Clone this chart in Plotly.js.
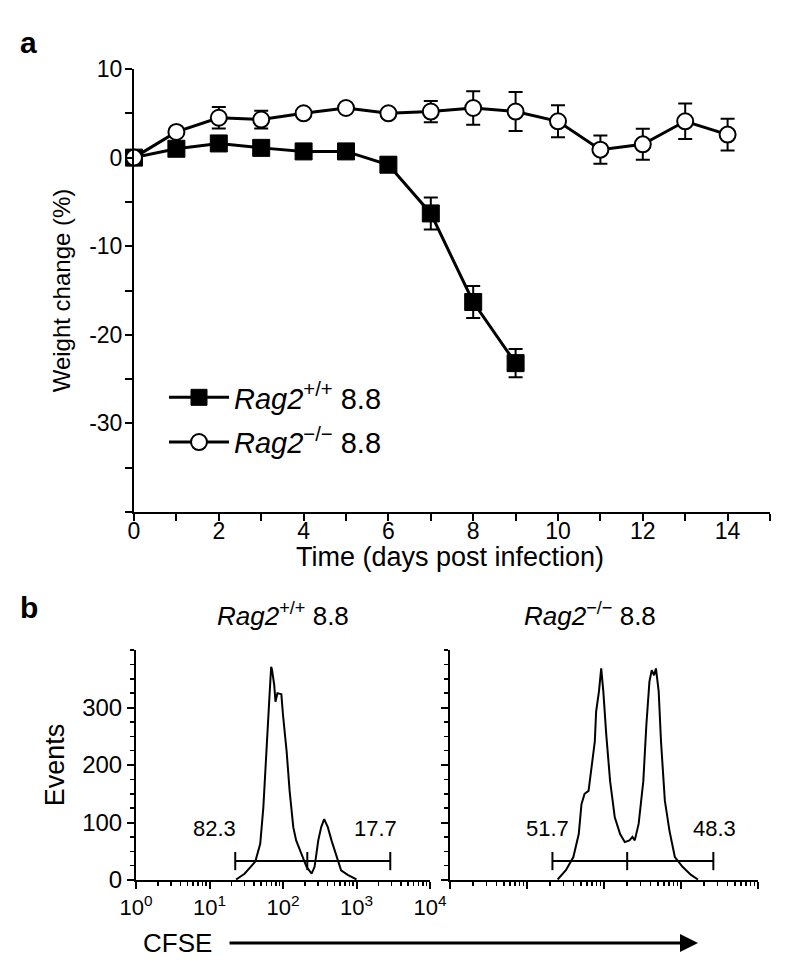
<!DOCTYPE html>
<html><head><meta charset="utf-8">
<script src="https://cdn.plot.ly/plotly-3.0.1.min.js"></script>
<style>html,body{margin:0;padding:0;background:#fff}</style>
</head><body>
<div id="chart" style="width:800px;height:975px"></div>
<script>
// ---- panel a: weight change ----
const wtDays = [0,1,2,3,4,5,6,7,8,9];
const wtWeight = [0,1.0,1.6,1.1,0.7,0.7,-0.8,-6.3,-16.3,-23.2];
const wtErr = [0,0.3,0.4,0.6,0.3,0.3,0.8,1.8,1.8,1.6];
const koDays = [0,1,2,3,4,5,6,7,8,9,10,11,12,13,14];
const koWeight = [0,2.9,4.5,4.3,5.0,5.6,5.0,5.2,5.6,5.2,4.1,0.9,1.5,4.1,2.6];
const koErr = [0,0.4,1.2,1.0,0.4,0.4,0.5,1.2,1.9,2.2,1.8,1.6,1.75,2.0,1.8];
const wtName = '<i>Rag2</i><sup>+/+</sup> 8.8';
const koName = '<i>Rag2</i><sup>\u2212/\u2212</sup> 8.8';
const dayTickVals = [0,1,2,3,4,5,6,7,8,9,10,11,12,13,14,15];
const dayTickText = ['0','','2','','4','','6','','8','','10','','12','','14',''];
const weightTickVals = [10,5,0,-5,-10,-15,-20,-25,-30,-35,-40];
const weightTickText = ['10','','0','','-10','','-20','','-30','',''];

// ---- panel b: CFSE histograms ----
const cfseWt = [23,30,42,49,54,59,63,66,69,71,76,79,84,95,100,112,123,138,151,178,209,245,269,302,331,363,407,457,537,617,759,1000];
const eventsWt = [1,11,32,63,126,207,264,328,371,365,339,310,325,323,287,224,155,92,69,46,23,11,23,69,92,106,92,69,40,17,9,1];
const cfseKo = [25,32,40,47,51,56,63,69,76,79,86,92,98,107,120,138,162,186,214,234,251,282,324,355,389,417,447,473,513,550,617,708,832,1047,1349,1660];
const eventsKo = [1,17,40,80,132,150,155,195,241,293,328,368,328,253,172,109,80,66,69,75,69,98,172,270,345,365,356,368,328,241,138,86,40,23,9,1];
const gateWt = [22.4,214,2880];
const gateKo = [21.4,200,2630];
const gateEvents = [33,33,33];
const gatePctWt = ['82.3','17.7'];
const gatePctKo = ['51.7','48.3'];
const cfseTickVals = [1,10,100,1000,10000];
const cfseTickText = ['10<sup>0</sup>','10<sup>1</sup>','10<sup>2</sup>','10<sup>3</sup>','10<sup>4</sup>'];
const eventsTickVals = [0,100,200,300];
const eventsTickText = ['0','100','200','300'];
const panelTitleWt = '<i>Rag2</i><sup>+/+</sup> 8.8';
const panelTitleKo = '<i>Rag2</i><sup>\u2212/\u2212</sup> 8.8';

const FONT = 'Liberation Sans, Arial, sans-serif';
const K = '#000';

const traces = [
  {x: wtDays, y: wtWeight, name: wtName, type:'scatter', mode:'lines+markers', xaxis:'x', yaxis:'y',
   line:{color:K,width:3}, marker:{symbol:'square', size:17, color:K, line:{color:K,width:1}},
   error_y:{type:'data', array:wtErr, visible:true, color:K, thickness:2, width:7},
   cliponaxis:false, legendgroup:'a'},
  {x: koDays, y: koWeight, name: koName, type:'scatter', mode:'lines+markers', xaxis:'x', yaxis:'y',
   line:{color:K,width:3}, marker:{symbol:'circle', size:16, color:'#fff', line:{color:K,width:2}},
   error_y:{type:'data', array:koErr, visible:true, color:K, thickness:2, width:7},
   cliponaxis:false, legendgroup:'b'},
  {x: cfseWt, y: eventsWt, type:'scatter', mode:'lines', xaxis:'x2', yaxis:'y2',
   line:{color:K,width:2}, showlegend:false, cliponaxis:false},
  {x: gateWt, y: gateEvents, type:'scatter', mode:'lines+markers', xaxis:'x2', yaxis:'y2',
   line:{color:K,width:2}, marker:{symbol:'line-ns-open', size:13, line:{color:K,width:2}}, showlegend:false, cliponaxis:false},
  {x: cfseKo, y: eventsKo, type:'scatter', mode:'lines', xaxis:'x3', yaxis:'y3',
   line:{color:K,width:2}, showlegend:false, cliponaxis:false},
  {x: gateKo, y: gateEvents, type:'scatter', mode:'lines+markers', xaxis:'x3', yaxis:'y3',
   line:{color:K,width:2}, marker:{symbol:'line-ns-open', size:13, line:{color:K,width:2}}, showlegend:false, cliponaxis:false}
];

const axBase = {showline:true, linecolor:K, linewidth:2, ticks:'outside', tickcolor:K, tickwidth:2,
  showgrid:false, zeroline:false, fixedrange:true};

const layout = {
  width:800, height:975, margin:{l:0,r:0,t:0,b:0},
  paper_bgcolor:'#fff', plot_bgcolor:'rgba(0,0,0,0)',
  font:{family:FONT, color:K, size:24},
  showlegend:true,
  legend:{x:0.205, y:0.6185, xanchor:'left', yanchor:'top', font:{size:29, family:FONT},
    bgcolor:'rgba(0,0,0,0)', traceorder:'grouped', tracegroupgap:4, itemwidth:60},
  xaxis: Object.assign({}, axBase, {domain:[0.1675,0.9625], range:[0,15], anchor:'y',
    tickmode:'array', tickvals:dayTickVals, ticktext:dayTickText, ticklen:7, tickfont:{size:23},
    ticklabelstandoff:-10}),
  yaxis: Object.assign({}, axBase, {domain:[0.4749,0.9292], range:[-40,10], anchor:'x',
    tickmode:'array', tickvals:weightTickVals, ticktext:weightTickText, ticklen:7, tickfont:{size:23},
    ticklabelstandoff:-2,
    title:{text:'Weight change (%)', font:{size:24}, standoff:12}}),
  xaxis2: Object.assign({}, axBase, {domain:[0.17,0.5375], type:'log', range:[0,4], anchor:'y2',
    tickmode:'array', tickvals:cfseTickVals, ticktext:cfseTickText, ticklen:7, tickfont:{size:22},
    minor:{dtick:'D1', ticks:'outside', ticklen:4, tickwidth:1.5, tickcolor:K, showgrid:false}}),
  yaxis2: Object.assign({}, axBase, {domain:[0.0974,0.3333], range:[0,400], anchor:'x2',
    tickmode:'array', tickvals:eventsTickVals, ticktext:eventsTickText, ticklen:7, tickfont:{size:24},
    minor:{tick0:0, dtick:25, ticks:'outside', ticklen:4, tickwidth:1.5, tickcolor:K, showgrid:false},
    title:{text:'Events', font:{size:27}, standoff:10}}),
  xaxis3: Object.assign({}, axBase, {domain:[0.5625,0.9475], type:'log', range:[0,4], anchor:'y3',
    tickmode:'array', tickvals:cfseTickVals, ticktext:cfseTickText, showticklabels:false, ticklen:7,
    minor:{dtick:'D1', ticks:'outside', ticklen:4, tickwidth:1.5, tickcolor:K, showgrid:false}}),
  yaxis3: Object.assign({}, axBase, {domain:[0.0974,0.3333], range:[0,400], anchor:'x3',
    tickmode:'array', tickvals:eventsTickVals, ticktext:eventsTickText, showticklabels:false, ticklen:7,
    minor:{tick0:0, dtick:25, ticks:'outside', ticklen:4, tickwidth:1.5, tickcolor:K, showgrid:false}}),
  annotations: [
    {text:'<b>a</b>', xref:'paper', yref:'paper', x:29/800, y:1-42/975, xanchor:'center', yanchor:'middle', showarrow:false, font:{size:30}},
    {text:'<b>b</b>', xref:'paper', yref:'paper', x:29/800, y:1-607/975, xanchor:'center', yanchor:'middle', showarrow:false, font:{size:30}},
    {text:'Time (days post infection)', xref:'paper', yref:'paper', x:450/800, y:1-557/975, xanchor:'center', yanchor:'middle', showarrow:false, font:{size:27}},
    {text:panelTitleWt, xref:'paper', yref:'paper', x:283/800, y:1-614/975, xanchor:'center', yanchor:'middle', showarrow:false, font:{size:26}},
    {text:panelTitleKo, xref:'paper', yref:'paper', x:590/800, y:1-614/975, xanchor:'center', yanchor:'middle', showarrow:false, font:{size:26}},
    {text:gatePctWt[0], xref:'x2', yref:'y2', x:1.07, y:90, xanchor:'center', yanchor:'middle', showarrow:false, font:{size:22}},
    {text:gatePctWt[1], xref:'x2', yref:'y2', x:3.26, y:90, xanchor:'center', yanchor:'middle', showarrow:false, font:{size:22}},
    {text:gatePctKo[0], xref:'x3', yref:'y3', x:1.26, y:90, xanchor:'center', yanchor:'middle', showarrow:false, font:{size:22}},
    {text:gatePctKo[1], xref:'x3', yref:'y3', x:3.43, y:90, xanchor:'center', yanchor:'middle', showarrow:false, font:{size:22}},
    {text:'CFSE', xref:'paper', yref:'paper', x:177/800, y:1-943/975, xanchor:'center', yanchor:'middle', showarrow:false, font:{size:26}},
    {text:'', xref:'paper', yref:'paper', x:698/800, y:1-943/975, axref:'paper', ayref:'paper',
     ax:228/800, ay:1-943/975, showarrow:true, arrowhead:2, arrowsize:1.2, arrowwidth:3, arrowcolor:K}
  ]
};

Plotly.newPlot('chart', traces, layout, {staticPlot:true, displayModeBar:false});
</script>
</body></html>
